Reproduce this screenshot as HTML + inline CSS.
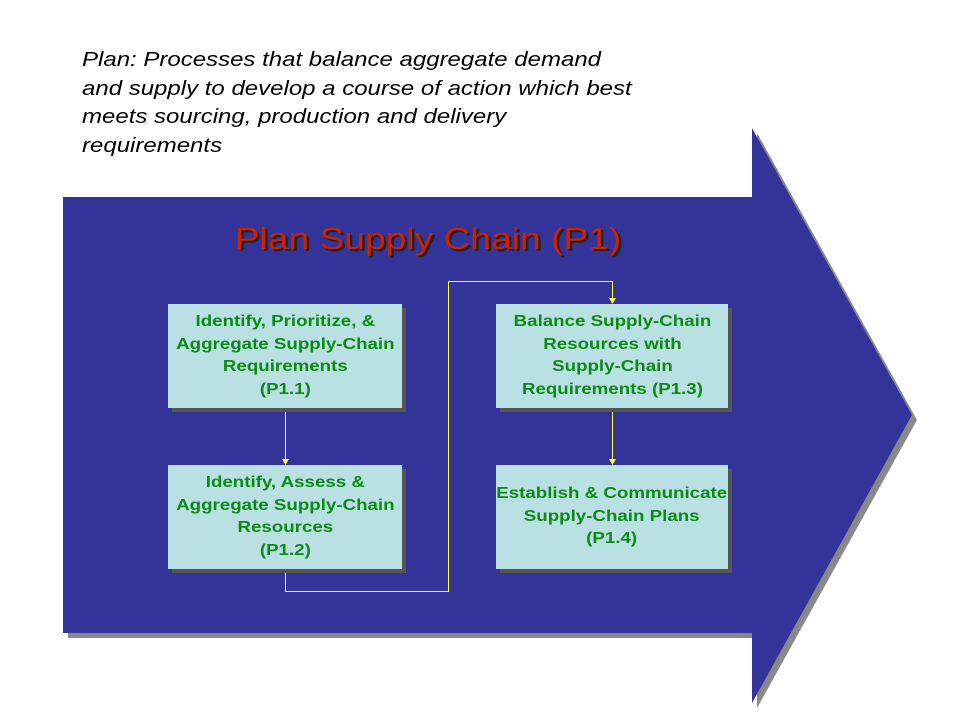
<!DOCTYPE html>
<html><head><style>
body{margin:0;width:960px;height:720px;background:#fff;overflow:hidden;position:relative;font-family:"Liberation Sans",sans-serif}
.t{position:absolute;left:82px;top:46px;font-style:italic;font-size:20px;line-height:28.5px;color:#000;transform:scaleX(1.2);transform-origin:0 0;white-space:nowrap}
.b{position:absolute;width:234px;height:104px;background:#b9e0e3;box-shadow:4px 4px 0 #555;display:flex;align-items:center;justify-content:center;text-align:center;color:#0b8a14;font-weight:bold;font-size:16px;line-height:22.5px}
.b span{display:inline-block;transform:scaleX(1.17);white-space:nowrap}
</style></head><body>
<svg width="960" height="720" style="position:absolute;left:0;top:0">
<polygon points="68,202 757,202 757,133 917,420 757,708 757,638 68,638" fill="#888"/>
<polygon points="63,197 752,197 752,128 912,415 752,703 752,633 63,633" fill="#333399"/>
<g stroke="#ffff33" stroke-width="1" fill="none">
<line x1="285.5" y1="408" x2="285.5" y2="462"/>
<polyline points="285.5,569 285.5,591.5 448.5,591.5 448.5,281.5 612.5,281.5 612.5,301"/>
<line x1="612.5" y1="408" x2="612.5" y2="462"/>
</g>
<g fill="#ffff33">
<polygon points="282,459 289,459 285.5,465"/>
<polygon points="609,298 616,298 612.5,304"/>
<polygon points="609,459 616,459 612.5,465"/>
</g>
<g transform="translate(428,0) scale(1.2,1)">
<text x="2" y="251" text-anchor="middle" font-family="Liberation Sans" font-size="31" fill="#222">Plan Supply Chain (P1)</text>
<text x="0" y="249" text-anchor="middle" font-family="Liberation Sans" font-size="31" fill="#cc2200">Plan Supply Chain (P1)</text>
</g>
</svg>
<div class="t">Plan: Processes that balance aggregate demand<br>and supply to develop a course of action which best<br>meets sourcing, production and delivery<br>requirements</div>
<div class="b" style="left:168px;top:304px"><span>Identify, Prioritize, &amp;<br>Aggregate Supply-Chain<br>Requirements<br>(P1.1)</span></div>
<div class="b" style="left:168px;top:465px"><span>Identify, Assess &amp;<br>Aggregate Supply-Chain<br>Resources<br>(P1.2)</span></div>
<div class="b" style="left:496px;top:304px;width:232px"><span>Balance Supply-Chain<br>Resources with<br>Supply-Chain<br>Requirements (P1.3)</span></div>
<div class="b" style="left:496px;top:465px;width:232px"><span>Establish &amp; Communicate<br>Supply-Chain Plans<br>(P1.4)</span></div>
</body></html>
